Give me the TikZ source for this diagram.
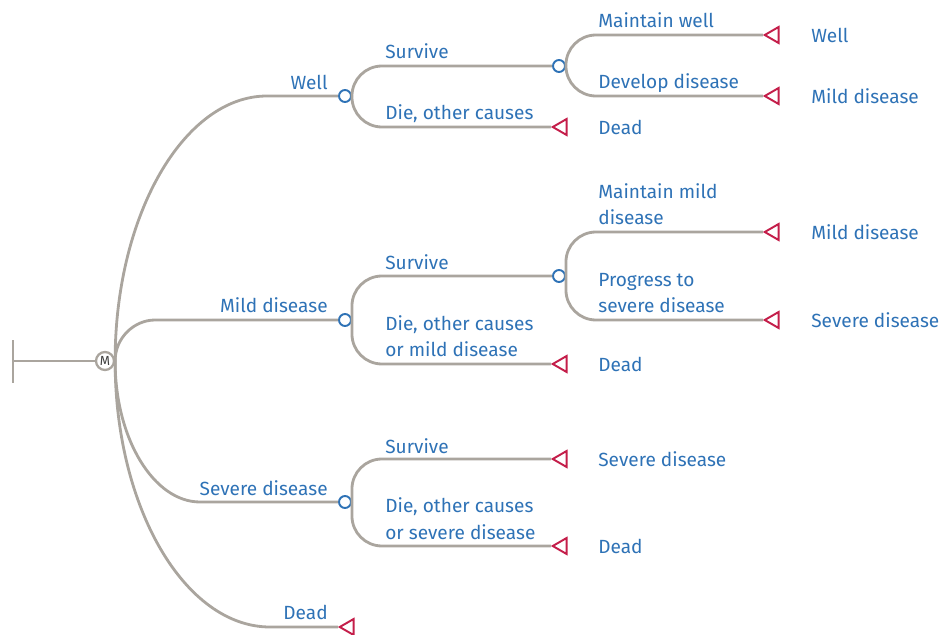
\documentclass[tikz,border=0pt]{standalone}
\usepackage{fontspec}
\setmainfont{Fira Sans}
\usetikzlibrary{shapes.geometric}

\definecolor{treeblue}{RGB}{46,114,182}
\definecolor{treered}{RGB}{196,30,74}
\definecolor{treegray}{RGB}{170,165,158}

\begin{document}
\begin{tikzpicture}[x=0.02cm, y=-0.02cm,
    branch/.style={draw=treegray, line width=1.6pt},
    chance/.style={circle, draw=treeblue, fill=white, line width=1.1pt, minimum size=0.24cm, inner sep=0pt},
    markov/.style={circle, draw=treegray, fill=white, line width=1.3pt, minimum size=0.36cm, inner sep=0pt, text=black!75, font=\fontsize{7.5}{8}\selectfont},
    outcome/.style={regular polygon, regular polygon sides=3, shape border rotate=90, draw=treered, fill=white, line width=1.1pt, minimum size=0.37cm, inner sep=0pt},
    lbl/.style={text=treeblue, inner sep=0pt, align=left, font=\fontsize{10.85}{14.8}\selectfont}]
    \useasboundingbox (0,0) rectangle (941,635);

    % decision and markov node
    \coordinate (bartop) at (13,340);
    \coordinate (barbot) at (13,383);
    \coordinate (start) at (13,361);
    \node[markov] (m) at (105,361){M};

    % health states
    \node[chance] (well) at (345,96){};
    \node[chance] (mild) at (345,320){};
    \node[chance] (severe) at (345,502){};
    \node[outcome] (dead) at (349,627){};
    \coordinate (kwell) at (267,96);
    \coordinate (kmild) at (155,320);
    \coordinate (ksevere) at (200,502);
    \coordinate (kdead) at (270,627);

    % second level
    \node[chance] (wellsurv) at (559,66){};
    \node[outcome] (welldie) at (562,127){};
    \node[chance] (mildsurv) at (559,276){};
    \node[outcome] (milddie) at (562,364){};
    \node[outcome] (sevsurv) at (562,459){};
    \node[outcome] (sevdie) at (562,546){};

    % third level
    \node[outcome] (wellkeep) at (774,35){};
    \node[outcome] (wellill) at (774,96){};
    \node[outcome] (mildkeep) at (774,232){};
    \node[outcome] (mildworse) at (774,320){};

    % branches
    \draw[branch] (bartop) -- (barbot);
    \draw[branch] (start) -- (m);
    \draw[branch] (m.east) .. controls (115,215) and (184,96) .. (kwell) -- (well);
    \draw[branch] (m.east) .. controls (115,338) and (134,320) .. (kmild) -- (mild);
    \draw[branch] (m.east) .. controls (115,439) and (154,502) .. (ksevere) -- (severe);
    \draw[branch] (m.east) .. controls (115,508) and (185,627) .. (kdead) -- (dead);
    \draw[branch, rounded corners=0.6cm] (well.east) |- (wellsurv);
    \draw[branch, rounded corners=0.6cm] (well.east) |- (welldie);
    \draw[branch, rounded corners=0.6cm] (mild.east) |- (mildsurv);
    \draw[branch, rounded corners=0.6cm] (mild.east) |- (milddie);
    \draw[branch, rounded corners=0.6cm] (severe.east) |- (sevsurv);
    \draw[branch, rounded corners=0.6cm] (severe.east) |- (sevdie);
    \draw[branch, rounded corners=0.6cm] (wellsurv.east) |- (wellkeep);
    \draw[branch, rounded corners=0.6cm] (wellsurv.east) |- (wellill);
    \draw[branch, rounded corners=0.6cm] (mildsurv.east) |- (mildkeep);
    \draw[branch, rounded corners=0.6cm] (mildsurv.east) |- (mildworse);

    % branch labels
    \node[lbl, anchor=base east] (lwell) at (328,90){Well};
    \node[lbl, anchor=base east] (lmild) at (328,313){Mild disease};
    \node[lbl, anchor=base east] (lsevere) at (328,495){Severe disease};
    \node[lbl, anchor=base east] (ldead) at (328,619){Dead};
    \node[lbl, anchor=base west] (lwellsurv) at (385,59){Survive};
    \node[lbl, anchor=base west] (lwelldie) at (385,120){Die, other causes};
    \node[lbl, anchor=base west] (lmildsurv) at (385,270){Survive};
    \node[lbl, anchor=base west] (lmilddie) at (385,357){Die, other causes\\or mild disease};
    \node[lbl, anchor=base west] (lsevsurv) at (385,453){Survive};
    \node[lbl, anchor=base west] (lsevdie) at (385,539){Die, other causes\\or severe disease};
    \node[lbl, anchor=base west] (lwellkeep) at (598,28){Maintain well};
    \node[lbl, anchor=base west] (lwellill) at (598,89){Develop disease};
    \node[lbl, anchor=base west] (lmildkeep) at (598,225){Maintain mild\\disease};
    \node[lbl, anchor=base west] (lmildworse) at (598,313){Progress to\\severe disease};

    % outcome labels
    \node[lbl, anchor=west] (owelldie) at (598,127){Dead};
    \node[lbl, anchor=west] (omilddie) at (598,364){Dead};
    \node[lbl, anchor=west] (osevsurv) at (598,459){Severe disease};
    \node[lbl, anchor=west] (osevdie) at (598,546){Dead};
    \node[lbl, anchor=west] (owellkeep) at (811,35){Well};
    \node[lbl, anchor=west] (owellill) at (811,96){Mild disease};
    \node[lbl, anchor=west] (omildkeep) at (811,232){Mild disease};
    \node[lbl, anchor=west] (omildworse) at (811,320){Severe disease};
\end{tikzpicture}
\end{document}
